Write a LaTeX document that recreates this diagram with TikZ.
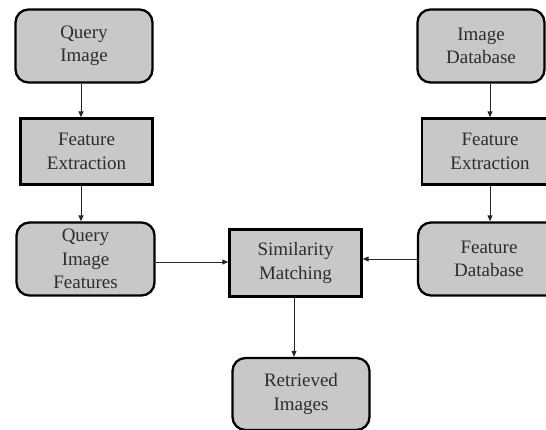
\documentclass[tikz,border=0pt]{standalone}
\usepackage{fontspec}
\setmainfont{Liberation Serif}
\usetikzlibrary{arrows.meta}
\definecolor{boxfill}{RGB}{200,200,200}
\definecolor{txt}{RGB}{45,45,45}
\begin{document}
\begin{tikzpicture}[x=1pt,y=-1pt,
  base/.style={draw=black, fill=boxfill, line width=2.3pt, text=txt,
    font=\fontsize{19}{23.5}\selectfont, align=center, inner sep=0pt},
  rbox/.style={base, rounded corners=13pt},
  sbox/.style={base},
  arr/.style={-{Triangle[length=6pt,width=5pt]}, line width=0.9pt, draw=black!85}
]
\clip (0,0) rectangle (546,430);
\fill[white] (0,0) rectangle (546,430);
% left column
\node[rbox, minimum width=137pt, minimum height=73pt] (qi) at (84,46) {Query\\Image};
\node[sbox, minimum width=132pt, minimum height=66pt] (fe1) at (86.5,151.5) {Feature\\Extraction};
\node[rbox, minimum width=138pt, minimum height=73pt] (qif) at (85.5,259) {Query\\Image\\Features};
% right column
\node[rbox, minimum width=127pt, minimum height=73pt] (id) at (481,46) {Image\\Database};
\node[sbox, minimum width=136pt, minimum height=66pt] (fe2) at (490,151.5) {Feature\\Extraction};
\node[rbox, minimum width=142pt, minimum height=73pt] (fd) at (489,259) {Feature\\Database};
% middle
\node[sbox, minimum width=132pt, minimum height=67pt] (sm) at (295.5,263) {Similarity\\Matching};
\node[rbox, minimum width=137pt, minimum height=72pt] (ri) at (301,394) {Retrieved\\Images};
% connectors
\coordinate (cl) at (81,0);
\coordinate (cr) at (490,0);
\coordinate (cm) at (294,0);
\draw[arr] (qi.south -| cl) -- (fe1.north -| cl);
\draw[arr] (fe1.south -| cl) -- (qif.north -| cl);
\draw[arr] (id.south -| cr) -- (fe2.north -| cr);
\draw[arr] (fe2.south -| cr) -- (fd.north -| cr);
\draw[arr] (qif.east) ++(0,3) coordinate (qe) -- (sm.west |- qe);
\draw[arr] (fd.west) -- (sm.east |- fd.west);
\draw[arr] (sm.south -| cm) -- (ri.north -| cm);
\end{tikzpicture}
\end{document}
